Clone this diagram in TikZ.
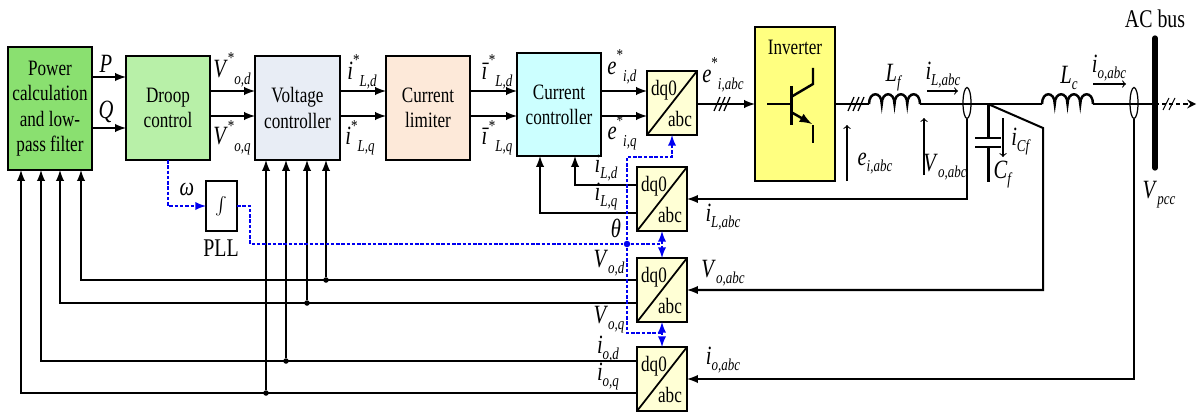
\documentclass[tikz,border=0pt]{standalone}
\usepackage{fontspec}
\setmainfont[FakeStretch=0.78]{Liberation Serif}
\usepackage{xcolor}
\usetikzlibrary{
    arrows,
    shapes,
    calc,
    positioning
}
\definecolor{pwrgreen}{HTML}{8AE070}
\definecolor{drpgreen}{HTML}{B8F0A8}
\definecolor{volgrey}{HTML}{E8EDF5}
\definecolor{limpeach}{HTML}{FDE9D9}
\definecolor{curcyan}{HTML}{CCFFFF}
\definecolor{cnvyellow}{HTML}{FFFFD5}
\definecolor{invyellow}{HTML}{FFFF80}
\definecolor{pllblue}{HTML}{0000F0}
\newcommand{\subf}{\fontsize{9.5}{11}\selectfont}
\newcommand{\sigv}[2]{\textit{#1}\raisebox{-.5ex}{\subf\textit{#2}}}
\newcommand{\sigs}[2]{\textit{#1}\raisebox{1.1ex}{\subf *}\raisebox{-.6ex}{\subf\textit{#2}}}
\tikzset{
    blockbox/.style={draw=black, line width=1.1pt, inner sep=0pt, outer sep=0pt, align=center, font=\fontsize{12.5}{14.4}\selectfont},
    convbox/.style={draw=black, line width=1.1pt, fill=cnvyellow, inner sep=0pt, outer sep=0pt, minimum width=1cm, minimum height=1.28cm},
    cnvtxt/.style={inner sep=0pt, font=\fontsize{12.5}{14}\selectfont},
    bigtxt/.style={inner sep=0pt, font=\fontsize{14.5}{16}\selectfont},
    sigtxt/.style={inner sep=0pt, font=\fontsize{15}{17}\selectfont},
    sigline/.style={line width=1pt},
    sigarrow/.style={line width=1.15pt, -latex},
    meterarrow/.style={line width=.6pt, ->},
    busline/.style={line width=1.7pt},
    bluedash/.style={color=pllblue, line width=1.1pt, dash pattern=on 2pt off 1pt},
    blackdot/.style={circle, fill=black, inner sep=0pt, minimum size=.11cm},
    bluedot/.style={circle, fill=pllblue, inner sep=0pt, minimum size=.13cm}
}

\begin{document}
\begin{tikzpicture}[x=.02cm, y=-.02cm]
    \useasboundingbox (0,0) rectangle (1202,412);
    \node[blockbox, fill=pwrgreen, minimum width=1.68cm, minimum height=2.46cm] (power) at (50,108.5) {Power\\calculation\\and low-\\pass filter};
    \node[blockbox, fill=drpgreen, minimum width=1.68cm, minimum height=2.08cm] (droop) at (168,108) {Droop\\control};
    \node[blockbox, fill=volgrey, minimum width=1.7cm, minimum height=2.08cm] (volt) at (297.5,108) {Voltage\\controller};
    \node[blockbox, fill=limpeach, minimum width=1.68cm, minimum height=2.08cm] (limit) at (428,108) {Current\\limiter};
    \node[blockbox, fill=curcyan, minimum width=1.68cm, minimum height=2.06cm] (curr) at (559,104.5) {Current\\controller};
    \node[blockbox, fill=invyellow, minimum width=1.6cm, minimum height=3.08cm] (inverter) at (795,104) {};
    \node[blockbox, fill=white, minimum width=.62cm, minimum height=1cm] (intg) at (221.5,206) {$\int$};
    \foreach \cname/\cx/\cy in {conva/672/103, convb/662/199, convc/662/290, convd/662/379} {
        \node[convbox] (\cname) at (\cx,\cy) {};
        \draw[sigline] (\cname.south west) -- (\cname.north east);
        \node[cnvtxt] (\cname dq) at ([shift={(17,19)}]\cname.north west) {dq0};
        \node[cnvtxt] (\cname abc) at ([shift={(-17,-16)}]\cname.south east) {abc};
    }

    \coordinate (rowp) at (0,77);
    \coordinate (rowr) at (0,128);
    \coordinate (rowd) at (0,91);
    \coordinate (rowq) at (0,116);
    \coordinate (railvd) at (0,280);
    \coordinate (railvq) at (0,303);
    \coordinate (railid) at (0,361);
    \coordinate (railiq) at (0,393);
    \coordinate (railld) at (0,185);
    \coordinate (raillq) at (0,213);

    \draw[sigarrow] (power.east |- rowp) -- (droop.west |- rowp);
    \draw[sigarrow] (power.east |- rowr) -- (droop.west |- rowr);
    \foreach \fromnode/\tonode in {droop/volt, volt/limit, limit/curr, curr/conva} {
        \draw[sigarrow] (\fromnode.east |- rowd) -- (\tonode.west |- rowd);
        \draw[sigarrow] (\fromnode.east |- rowq) -- (\tonode.west |- rowq);
    }
    \draw[sigarrow] (conva.east |- inverter.west) -- (inverter.west);
    \foreach \s in {717,722,727} {
        \draw[line width=.7pt] (\s-3,111) -- (\s+3,97);
    }

    \foreach \cname/\rail/\xp/\xv in {convc/railvd/81/326, convc/railvq/60/307, convd/railid/41/286, convd/railiq/21/266} {
        \draw[sigarrow] (\cname.west |- \rail) -| (\xp,0 |- power.south);
        \node[blackdot] (dot\rail) at (\xv,0 |- \rail) {};
        \draw[sigarrow] (dot\rail) -- (dot\rail |- volt.south);
    }
    \draw[sigarrow] (convb.west |- railld) -| (575,0 |- curr.south);
    \draw[sigarrow] (convb.west |- raillq) -| (540,0 |- curr.south);

    \node[bluedot] (thetadot) at (627,244) {};
    \draw[bluedash, -latex] (droop.south) |- (intg.west);
    \draw[bluedash] (intg.east) -| (250,230) |- (thetadot);
    \draw[bluedash] (thetadot) -- (convb.south |- thetadot);
    \draw[bluedash, -latex] (thetadot) -- (thetadot |- 0,157) -| (conva.south);
    \draw[bluedash] (thetadot) |- (convd.north |- 0,333);
    \draw[bluedash, latex-latex] (convb.south) -- (convc.north);
    \draw[bluedash, latex-latex] (convc.south) -- (convd.north);

    \coordinate (lfa) at (869,104);
    \coordinate (lfb) at (920,104);
    \coordinate (lca) at (1042,104);
    \coordinate (lcb) at (1093,104);
    \coordinate (capjoint) at (988,104);
    \coordinate (busjoint) at (1155,104);
    \coordinate (bustop) at (1155,38);
    \coordinate (busbot) at (1155,168);
    \coordinate (busend) at (1196,104);

    \draw[busline] (inverter.east) -- (lfa);
    \foreach \s in {851,856,861} {
        \draw[line width=.7pt] (\s-3,111) -- (\s+3,97);
    }
    \draw[line width=1.4pt] (lfa)
        \foreach \i in {1,...,4} { .. controls +(0,-13) and +(0,-13) .. ++(12.75,0) };
    \draw[busline] (lfb) -- (lca);
    \draw[line width=1.4pt] (lca)
        \foreach \i in {1,...,4} { .. controls +(0,-13) and +(0,-13) .. ++(12.75,0) };
    \draw[busline] (lcb) -- (busjoint);
    \draw[line width=3pt, line cap=round] (bustop) -- (busbot);
    \draw[line width=1.2pt, dash pattern=on 2.5pt off 1.5pt, -stealth] (busjoint) -- (busend);
    \foreach \s in {1166,1172} {
        \draw[line width=.6pt] (\s-3,110) -- (\s+3,98);
    }

    \draw[busline] (capjoint) -- (988,138);
    \draw[busline] (975,138) -- (1001,138);
    \draw[busline] (975,147) -- (1001,147);
    \draw[busline] (988,147) -- (988,182);

    \node[ellipse, draw=black, line width=.7pt, minimum width=.16cm, minimum height=.62cm, inner sep=0pt] (ctl) at (967,103) {};
    \node[ellipse, draw=black, line width=.7pt, minimum width=.16cm, minimum height=.62cm, inner sep=0pt] (cto) at (1134,103) {};
    \draw[sigarrow] (ctl.south) |- (convb.east);
    \draw[sigarrow] (capjoint) -- (1043,128) |- (convc.east);
    \draw[sigarrow] (cto.south) |- (convd.east);

    \draw[meterarrow] (927,91) -- (958,91);
    \draw[meterarrow] (1093,84) -- (1126,84);
    \draw[meterarrow] (847,181) -- (847,125);
    \draw[meterarrow] (924,175) -- (924,118);
    \draw[meterarrow] (1003,118) -- (1003,157);

    \draw[line width=1.7pt] (767,104) -- (790,104);
    \draw[line width=1.7pt] (791,86) -- (791,125);
    \draw[line width=1.4pt] (791,97) -- (813,84) -- (813,68);
    \draw[line width=1.4pt, -latex] (791,112) -- (812,124);
    \draw[line width=1.4pt] (813,125) -- (813,143);

    \node[sigtxt] (lblp) at (106,64) {\textit{P}};
    \node[sigtxt] (lblq) at (106,112) {\textit{Q}};
    \node[sigtxt] (lblvd) at (232,70) {\sigs{V}{o,d}};
    \node[sigtxt] (lblvq) at (232,138) {\sigs{V}{o,q}};
    \node[sigtxt] (lblid) at (362,72) {\sigs{i}{L,d}};
    \node[sigtxt] (lbliq) at (360,138) {\sigs{i}{L,q}};
    \node[sigtxt] (lbljd) at (497,72) {\sigs{ī}{L,d}};
    \node[sigtxt] (lbljq) at (497,138) {\sigs{ī}{L,q}};
    \node[sigtxt] (lbled) at (622,67) {\sigs{e}{i,d}};
    \node[sigtxt] (lbleq) at (622,133) {\sigs{e}{i,q}};
    \node[sigtxt] (lbleabc) at (723,75) {\sigs{e}{i,abc}};
    \node[sigtxt] (lblild) at (606,168) {\sigv{i}{L,d}};
    \node[sigtxt] (lblilq) at (606,197) {\sigv{i}{L,q}};
    \node[sigtxt] (lbltheta) at (616,228) {\textit{θ}};
    \node[sigtxt] (lblilabc) at (723,217) {\sigv{i}{L,abc}};
    \node[sigtxt] (lblvod) at (609,263) {\sigv{V}{o,d}};
    \node[sigtxt] (lblvoq) at (609,320) {\sigv{V}{o,q}};
    \node[sigtxt] (lbliod) at (608,349) {\sigv{i}{o,d}};
    \node[sigtxt] (lblioq) at (608,377) {\sigv{i}{o,q}};
    \node[sigtxt] (lblvoabc) at (723,273) {\sigv{V}{o,abc}};
    \node[sigtxt] (lblioabc) at (723,360) {\sigv{i}{o,abc}};
    \node[sigtxt] (lblomega) at (187,189) {\textit{ω}};
    \node[bigtxt] (lblpll) at (221,248) {PLL};
    \node[sigtxt] (lbllf) at (894,78) {\sigv{L}{f}};
    \node[sigtxt] (lbltopil) at (943,75) {\sigv{i}{L,abc}};
    \node[sigtxt] (lbllc) at (1069,78) {\sigv{L}{c}};
    \node[sigtxt] (lbltopio) at (1109,68) {\sigv{i}{o,abc}};
    \node[bigtxt] (lblbus) at (1155,19) {AC bus};
    \node[sigtxt] (lbleiabc) at (875,164) {\sigv{e}{i,abc}};
    \node[sigtxt] (lbltopvo) at (945,167) {\sigv{V}{o,abc}};
    \node[sigtxt] (lblicf) at (1021,142) {\sigv{i}{Cf}};
    \node[sigtxt] (lblcf) at (1003,175) {\sigv{C}{f}};
    \node[sigtxt] (lblvpcc) at (1159,195) {\sigv{V}{pcc}};
    \node[cnvtxt] (lblinv) at (795,47) {Inverter};
\end{tikzpicture}
\end{document}
